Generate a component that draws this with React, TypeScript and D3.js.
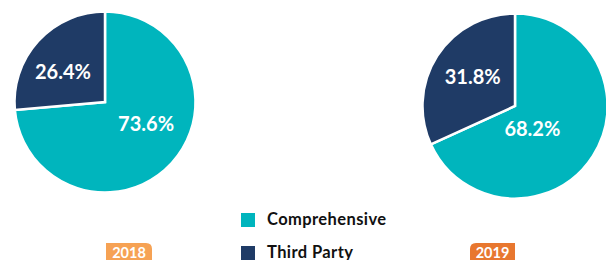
import React from "react";
import * as d3 from "d3";

const categories = ["Comprehensive", "Third Party"];
const years = ["2018", "2019"];
const values2018 = [73.6, 26.4];
const values2019 = [68.2, 31.8];
const colors = ["#00B5BD", "#1F3B66"];
const yearColors = ["#F6A254", "#E8772F"];

// label nudges (px) relative to slice centroid, per pie / per slice
const nudges2018: [number, number][] = [[3, -14], [-4, 4]];
const nudges2019: [number, number][] = [[-27, -7], [2, -1]];

const W = 606;
const H = 260;
const FONT = "Lato, 'DejaVu Sans', sans-serif";

function Pie({ cx, cy, r, values, nudges }: { cx: number; cy: number; r: number; values: number[]; nudges: [number, number][] }) {
  const pie = d3.pie<number>().sort(null).value((d) => d);
  const arcs = pie(values);
  const arc = d3.arc<d3.PieArcDatum<number>>().innerRadius(0).outerRadius(r);
  const labelArc = d3.arc<d3.PieArcDatum<number>>().innerRadius(r * 0.57).outerRadius(r * 0.57);
  return (
    <g transform={`translate(${cx},${cy})`}>
      {arcs.map((a, i) => (
        <path key={i} d={arc(a) || ""} fill={colors[i]} stroke="#fff" strokeWidth={2.5} strokeLinejoin="miter" />
      ))}
      {arcs.map((a, i) => {
        const [x, y] = labelArc.centroid(a);
        return (
          <text
            key={"t" + i}
            x={x + nudges[i][0]}
            y={y + nudges[i][1]}
            textAnchor="middle"
            dominantBaseline="central"
            fill="#fff"
            fontFamily={FONT}
            fontWeight={700}
            fontSize={20}
          >
            {a.data.toFixed(1)}%
          </text>
        );
      })}
    </g>
  );
}

function Tag({ x, y, w, h, fill, label, corner }: { x: number; y: number; w: number; h: number; fill: string; label: string; corner: "tr" | "tl" }) {
  const rr = 6;
  const d =
    corner === "tr"
      ? `M${x},${y} H${x + w - rr} Q${x + w},${y} ${x + w},${y + rr} V${y + h} H${x} Z`
      : `M${x + rr},${y} H${x + w} V${y + h} H${x} V${y + rr} Q${x},${y} ${x + rr},${y} Z`;
  return (
    <g>
      <path d={d} fill={fill} />
      <text
        x={x + w / 2}
        y={y + 14.5}
        textAnchor="middle"
        fill="#fff"
        fontFamily={FONT}
        fontWeight={700}
        fontSize={14.5}
      >
        {label}
      </text>
    </g>
  );
}

export default function App() {
  return (
    <svg width={W} height={H} style={{ position: "absolute", left: 0, top: 0 }}>
      <rect width={W} height={H} fill="#fff" />
      <Pie cx={105} cy={102} r={90.5} values={values2018} nudges={nudges2018} />
      <Pie cx={515} cy={106} r={92.5} values={values2019} nudges={nudges2019} />
      {categories.map((c, i) => (
        <g key={c} transform={`translate(241,${213 + i * 33})`}>
          <rect width={14} height={14} fill={colors[i]} />
          <text
            x={26}
            y={11.5}
            fill="#111"
            fontFamily={FONT}
            fontWeight={700}
            fontSize={16.5}
            letterSpacing={0.4}
          >
            {c}
          </text>
        </g>
      ))}
      <Tag x={106} y={243} w={46} h={20} fill={yearColors[0]} label={years[0]} corner="tr" />
      <Tag x={470} y={243} w={45} h={20} fill={yearColors[1]} label={years[1]} corner="tl" />
    </svg>
  );
}
